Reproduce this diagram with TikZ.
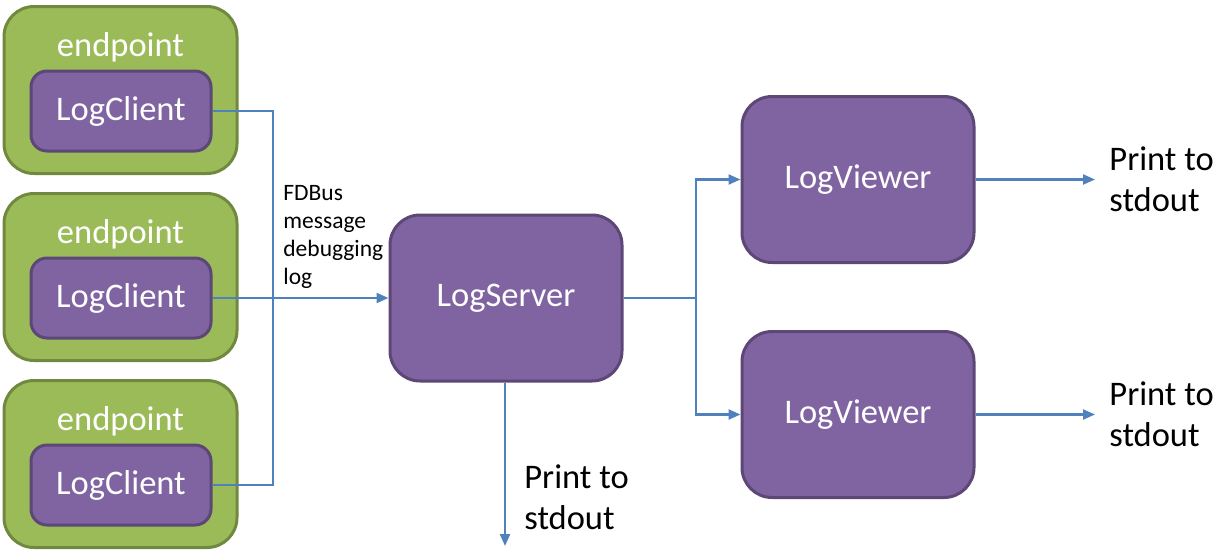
\documentclass[tikz,border=0pt]{standalone}
\usepackage{fontspec}
\setmainfont{Carlito}
\usetikzlibrary{arrows.meta}
\definecolor{epgreen}{HTML}{9BBB59}
\definecolor{epline}{HTML}{71893F}
\definecolor{logfill}{HTML}{8064A2}
\definecolor{logline}{HTML}{5C4776}
\definecolor{wire}{HTML}{4F81BD}
\newcommand{\bigfont}{\fontsize{17.25}{20.5}\selectfont}
\newcommand{\smallfont}{\fontsize{11.75}{14}\selectfont}
\tikzset{
  endbox/.style={draw=epline,fill=epgreen,line width=1.5pt,rounded corners=15pt,
    minimum width=116.5pt,minimum height=83.5pt,inner sep=0pt},
  clientbox/.style={draw=logline,fill=logfill,line width=1.5pt,rounded corners=8pt,
    minimum width=90pt,minimum height=40pt,text=white,font=\bigfont},
  logbox/.style={draw=logline,fill=logfill,line width=1.5pt,rounded corners=15pt,
    minimum width=116pt,minimum height=83pt,text=white,font=\bigfont},
  eptext/.style={text=white,font=\bigfont,anchor=base,inner sep=0pt},
  note/.style={align=left,inner sep=0pt,font=\bigfont},
  wire/.style={draw=wire,line width=1.1pt},
  arr/.style={-{Triangle[length=6pt,width=5pt]}}
}
\begin{document}
\begin{tikzpicture}[x=0.5pt,y=-0.5pt]
  \useasboundingbox (0,0) rectangle (1226,558);
  % endpoints with their clients
  \path (120.5,90) node[endbox] (ep1) {};
  \path (120.5,56) node[eptext] (ept1) {endpoint};
  \path (121,111) node[clientbox] (lc1) {LogClient};
  \path (120.5,277) node[endbox] (ep2) {};
  \path (120.5,243) node[eptext] (ept2) {endpoint};
  \path (121,298) node[clientbox] (lc2) {LogClient};
  \path (120.5,464) node[endbox] (ep3) {};
  \path (120.5,430) node[eptext] (ept3) {endpoint};
  \path (121,485) node[clientbox] (lc3) {LogClient};

  % server and viewers
  \path (506,298) node[logbox] (srv) {LogServer};
  \path (858,179.5) node[logbox] (lv1) {LogViewer};
  \path (858,414.5) node[logbox] (lv2) {LogViewer};

  % labels
  \path (283,185) node[note,anchor=north west,font=\smallfont] (msg) {FDBus\\message\\debugging\\log};
  \path (1109,179.5) node[note,anchor=west] (pr1) {Print to\\stdout};
  \path (1109,414.5) node[note,anchor=west] (pr2) {Print to\\stdout};
  \path (524,497) node[note,anchor=west] (pr3) {Print to\\stdout};

  \coordinate (bus) at (273,298);
  \coordinate (fork) at (696,298);
  \coordinate (out1) at (1095,179.5);
  \coordinate (out2) at (1095,414.5);
  \coordinate (out3) at (505,546);

  \draw[wire] (lc1.east) -| (bus) |- (lc3.east);
  \draw[wire,arr] (lc2.east) -- (srv.west);
  \draw[wire] (srv.east) -- (fork);
  \draw[wire,arr] (fork) |- (lv1.west);
  \draw[wire,arr] (fork) |- (lv2.west);
  \draw[wire,arr] (lv1.east) -- (out1);
  \draw[wire,arr] (lv2.east) -- (out2);
  \draw[wire,arr] (srv.south -| out3) -- (out3);
\end{tikzpicture}
\end{document}
